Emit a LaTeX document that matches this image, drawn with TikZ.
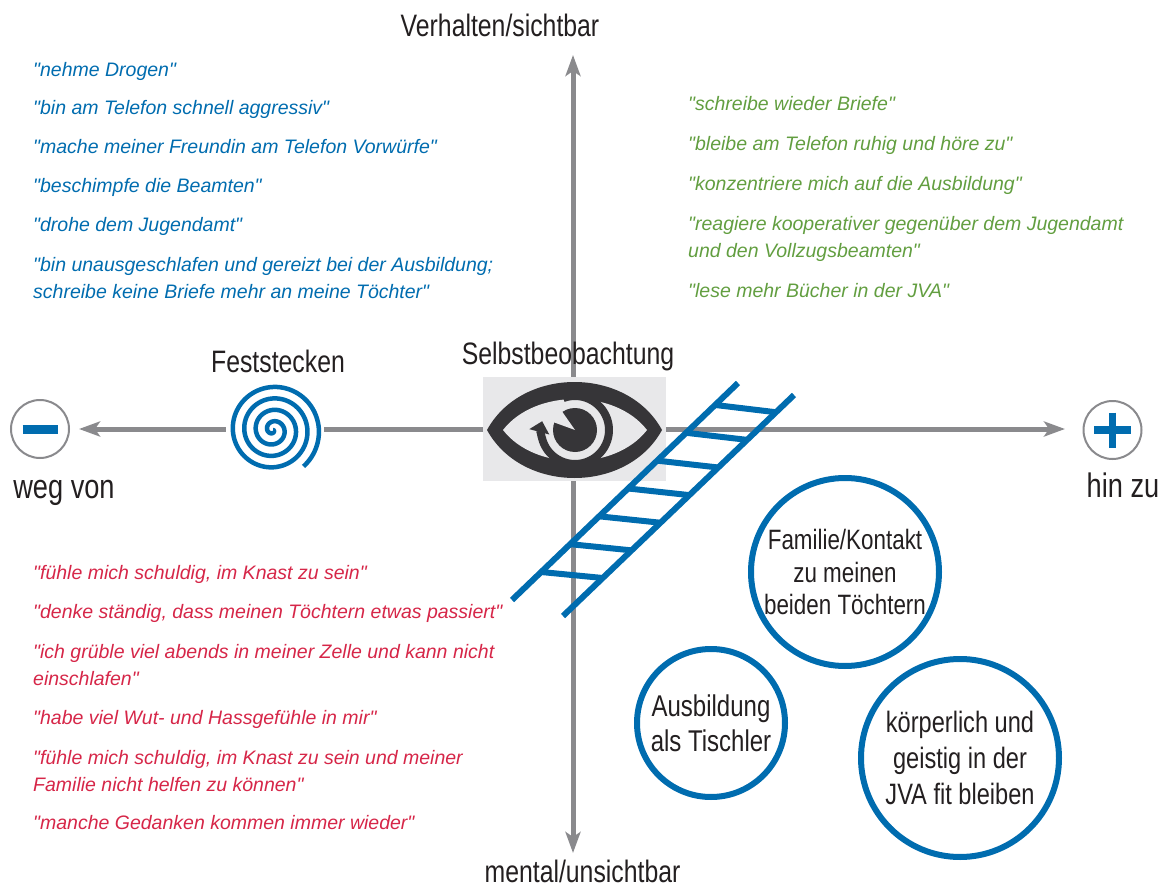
\documentclass[tikz,border=0pt]{standalone}
\usepackage{fontspec}
\setmainfont{Liberation Sans}
\newfontfamily\listfont{Liberation Sans}
\newfontfamily\condfont{Liberation Sans}[FakeStretch=0.8]
\usetikzlibrary{arrows.meta,calc}

\definecolor{axisgray}{RGB}{138,138,141}
\definecolor{lblue}{RGB}{0,108,175}
\definecolor{lgreen}{RGB}{98,158,64}
\definecolor{lred}{RGB}{214,38,72}
\definecolor{dark}{RGB}{35,31,32}
\definecolor{eyedark}{RGB}{54,53,56}
\definecolor{boxgray}{RGB}{232,232,234}

\tikzset{
  axis/.style={line width=5pt, draw=axisgray, -{Stealth[length=21pt,width=15pt,inset=5pt]}},
  quote/.style={anchor=base west, inner sep=0pt, align=left,
    font=\listfont\itshape\fontsize{19.5}{27}\selectfont},
  axistext/.style={anchor=base, inner sep=0pt, text=dark,
    font=\condfont\fontsize{31}{37}\selectfont},
  goal/.style={circle, draw=lblue, line width=6pt, align=center, inner sep=0pt, text=dark},
  rail/.style={line width=6pt, draw=lblue},
  sign/.style={circle, draw=axisgray, line width=2pt, minimum size=58pt, inner sep=0pt},
}

\begin{document}
\begin{tikzpicture}[x=1pt, y=-1pt]
\useasboundingbox (0,0) rectangle (1171,888);

% axes
\coordinate (o) at (573,429);
\coordinate (ntip) at (573,55);
\coordinate (stip) at (573,853);
\coordinate (wtip) at (79,429);
\coordinate (etip) at (1065,429);
\draw[axis] (o) -- (ntip);
\draw[axis] (o) -- (stip);
\draw[axis] (o) -- (wtip);
\draw[axis] (o) -- (etip);

\node[axistext] (visible) at (500,37) {Verhalten/sichtbar};
\node[axistext] (mental) at (582.5,882) {mental/unsichtbar};
\node[axistext, font=\condfont\fontsize{34}{40}\selectfont] (away) at (64,498) {weg von};
\node[axistext, font=\condfont\fontsize{34}{40}\selectfont] (toward) at (1123,497) {hin zu};

% minus / plus
\node[sign] (minus) at (40,429) {};
\draw[lblue, line width=9pt] ($(minus.center)+(-17.5,0)$) -- ++(35,0);
\node[sign] (plus) at (1112.5,430) {};
\draw[lblue, line width=7.5pt] ($(plus.center)+(-18.5,0)$) -- ++(37,0);
\draw[lblue, line width=7.5pt] ($(plus.center)+(0,-17.5)$) -- ++(0,35);

% spiral
\node[axistext] (stuck) at (278,372) {Feststecken};
\fill[white] (275,429) circle[radius=49];
\draw[lblue, line width=4.5pt] plot[domain=0:1490, samples=400, smooth]
  ({273+0.031879*\x*cos(\x)}, {430+0.031879*\x*sin(\x)});

% eye
\node[axistext] (selfobs) at (568,364) {Selbstbeobachtung};
\node[fill=boxgray, minimum width=183pt, minimum height=104pt, inner sep=0pt] (eye) at (574.5,429) {};
\fill[eyedark] (487,430) .. controls (522,366) and (627,366) .. (662,430)
  .. controls (627,494) and (522,494) .. (487,430) -- cycle;
\fill[boxgray] (503,430) .. controls (535,388.7) and (615,388.7) .. (647,430)
  .. controls (615,471.3) and (535,471.3) .. (503,430) -- cycle;
\draw[eyedark, line width=8pt, -{Triangle[width=20pt,length=11pt]}]
  (575,430) ++(250:34) arc[start angle=250, end angle=555, radius=34];
\fill[eyedark] (575,430) circle[radius=22];
\fill[boxgray] (575,430) -- ++(200:25) arc[start angle=200, end angle=235, radius=25] -- cycle;

% ladder
\coordinate (la) at (512,600);
\coordinate (lb) at (738,383);
\coordinate (ra) at (563,616);
\coordinate (rb) at (794,395);
\draw[rail] (la) -- (lb);
\draw[rail] (ra) -- (rb);
\foreach \i in {0,...,6}
  \draw[rail] ($(la)!{0.129+0.1283*\i}!(lb)$) -- ($(ra)!{0.172+0.125*\i}!(rb)$);

% negative behaviour
\node[quote, text=lblue] (neg1) at (33,76.5) {"nehme Drogen"};
\node[quote, text=lblue] (neg2) at (33,115) {"bin am Telefon schnell aggressiv"};
\node[quote, text=lblue] (neg3) at (33,153.5) {"mache meiner Freundin am Telefon Vorwürfe"};
\node[quote, text=lblue] (neg4) at (33,192.5) {"beschimpfe die Beamten"};
\node[quote, text=lblue] (neg5) at (33,231) {"drohe dem Jugendamt"};
\node[quote, text=lblue] (neg6) at (33,298) {"bin unausgeschlafen und gereizt bei der Ausbildung;\\schreibe keine Briefe mehr an meine Töchter"};

% positive behaviour
\node[quote, text=lgreen] (pos1) at (688,111) {"schreibe wieder Briefe"};
\node[quote, text=lgreen] (pos2) at (688,151) {"bleibe am Telefon ruhig und höre zu"};
\node[quote, text=lgreen] (pos3) at (688,191) {"konzentriere mich auf die Ausbildung"};
\node[quote, text=lgreen] (pos4) at (688,257) {"reagiere kooperativer gegenüber dem Jugendamt\\und den Vollzugsbeamten"};
\node[quote, text=lgreen] (pos5) at (688,297) {"lese mehr Bücher in der JVA"};

% thoughts
\node[quote, text=lred] (thk1) at (33,579) {"fühle mich schuldig, im Knast zu sein"};
\node[quote, text=lred] (thk2) at (33,618) {"denke ständig, dass meinen Töchtern etwas passiert"};
\node[quote, text=lred] (thk3) at (33,685) {"ich grüble viel abends in meiner Zelle und kann nicht\\einschlafen"};
\node[quote, text=lred] (thk4) at (33,724) {"habe viel Wut- und Hassgefühle in mir"};
\node[quote, text=lred] (thk5) at (33,791) {"fühle mich schuldig, im Knast zu sein und meiner\\Familie nicht helfen zu können"};
\node[quote, text=lred] (thk6) at (33,829) {"manche Gedanken kommen immer wieder"};

% values
\node[goal, minimum size=188pt, font=\condfont\fontsize{28}{32.5}\selectfont] (family) at (845,572)
  {Familie/Kontakt\\zu meinen\\beiden Töchtern};
\node[goal, minimum size=148pt, font=\condfont\fontsize{30}{35}\selectfont] (training) at (711,723)
  {Ausbildung\\als Tischler};
\node[goal, minimum size=198pt, font=\condfont\fontsize{29.5}{36}\selectfont] (fit) at (960,758)
  {körperlich und\\geistig in der\\JVA fit bleiben};

\end{tikzpicture}
\end{document}
